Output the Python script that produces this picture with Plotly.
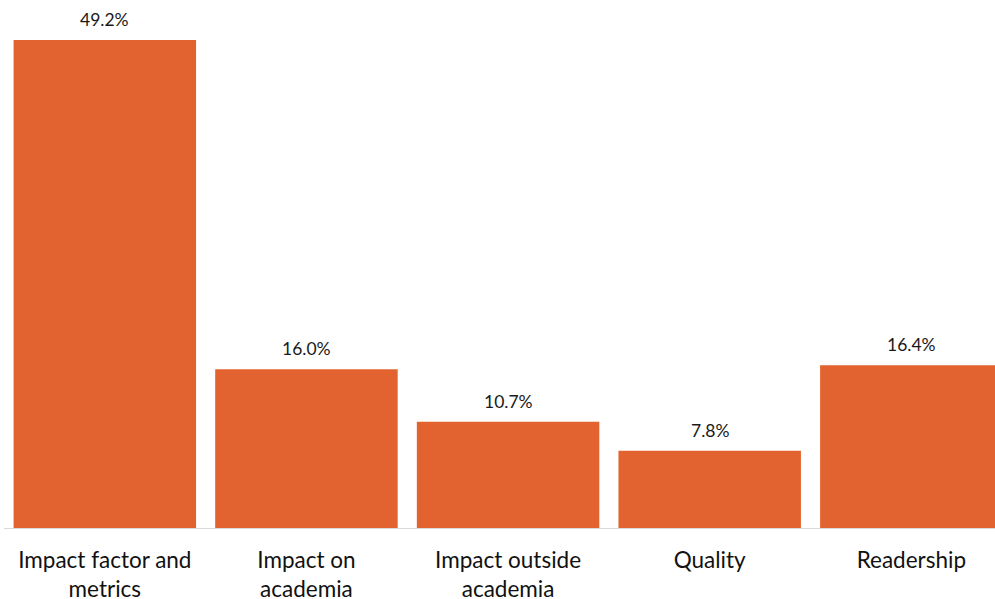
import plotly.graph_objects as go

categories = ["Impact factor and<br>metrics", "Impact on<br>academia", "Impact outside<br>academia", "Quality", "Readership"]
values = [49.2, 16.0, 10.7, 7.8, 16.4]
labels = ["49.2%", "16.0%", "10.7%", "7.8%", "16.4%"]

bar_color = "#E2632F"

fig = go.Figure()
fig.add_trace(go.Bar(
    x=list(range(len(categories))),
    y=values,
    marker=dict(color=bar_color, line=dict(width=0)),
    width=0.905,
    hoverinfo="skip",
))

for i, (v, t) in enumerate(zip(values, labels)):
    fig.add_annotation(x=i, y=v, text=t, showarrow=False, yanchor="bottom",
                       yshift=8, font=dict(family="Lato, Open Sans, sans-serif", size=17.5, color="#1a1a1a"))

fig.update_layout(
    width=995, height=599,
    margin=dict(l=4, r=0, t=0, b=71, autoexpand=False),
    plot_bgcolor="white", paper_bgcolor="white",
    showlegend=False,
    font=dict(family="Lato, Open Sans, sans-serif", size=20, color="#111111"),
    xaxis=dict(
        range=[-0.5, 4.415],
        automargin=False,
        tickmode="array",
        tickvals=list(range(len(categories))),
        ticktext=categories,
        showline=True, linecolor="#D9D9D9", linewidth=1,
        showgrid=False, zeroline=False, ticks="",
        ticklabelstandoff=12,
        tickfont=dict(size=22.5, color="#111111"),
    ),
    yaxis=dict(range=[0, 53.23], visible=False, showgrid=False, zeroline=False),
)

fig.write_html("out.html")
